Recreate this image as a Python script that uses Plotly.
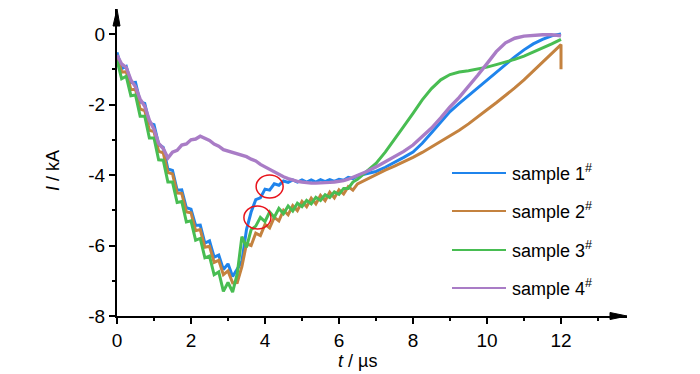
import numpy as np
import plotly.graph_objects as go

# time grids (µs)
t_early = list(np.round(np.linspace(0, 6.5, 53), 4))
t_late = list(np.round(np.linspace(6.75, 12, 22), 4))

# current values (kA)
s1_early = [-0.52, -0.98, -0.92, -1.38, -1.37, -1.93, -1.97, -2.53, -2.57, -3.13,
            -3.22, -3.83, -3.87, -4.43, -4.42, -4.93, -4.97, -5.43, -5.42, -5.93,
            -5.87, -6.33, -6.27, -6.68, -6.52, -6.88, -6.67, -6.45, -5.55, -5.05,
            -4.70, -4.65, -4.40, -4.43, -4.25, -4.29, -4.17, -4.21, -4.14, -4.20,
            -4.14, -4.20, -4.14, -4.20, -4.13, -4.19, -4.13, -4.18, -4.12, -4.15,
            -4.07, -4.10, -4.02]
s1_late = [-3.97, -3.90, -3.78, -3.65, -3.50, -3.35, -3.10, -2.80, -2.50, -2.20, -1.97,
           -1.75, -1.52, -1.30, -1.08, -0.87, -0.65, -0.45, -0.28, -0.15, -0.05, 0.00]

s2_early = [-0.60, -1.08, -1.07, -1.58, -1.57, -2.13, -2.17, -2.73, -2.77, -3.33,
            -3.37, -3.93, -3.97, -4.51, -4.52, -5.05, -5.07, -5.58, -5.55, -6.05,
            -6.02, -6.48, -6.42, -6.83, -6.72, -7.06, -7.05, -6.60, -5.95, -6.00,
            -5.65, -5.72, -5.40, -5.50, -5.20, -5.30, -5.00, -5.13, -4.87, -5.01,
            -4.75, -4.90, -4.66, -4.82, -4.58, -4.73, -4.49, -4.65, -4.42, -4.54,
            -4.33, -4.43, -4.25]
s2_late = [-4.12, -3.97, -3.86, -3.75, -3.63, -3.50, -3.36, -3.20, -3.05, -2.90, -2.73,
           -2.55, -2.36, -2.15, -1.95, -1.75, -1.53, -1.30, -1.05, -0.80, -0.55, -0.30]
s2_tail_t = [12.0]
s2_tail = [-1.0]

s3_early = [-0.75, -1.27, -1.20, -1.75, -1.73, -2.33, -2.33, -2.95, -2.95, -3.57,
            -3.58, -4.20, -4.20, -4.78, -4.75, -5.33, -5.30, -5.85, -5.80, -6.35,
            -6.30, -6.83, -6.75, -7.30, -7.05, -7.32, -6.80, -5.75, -6.05, -5.55,
            -5.45, -5.20, -5.32, -5.05, -5.20, -4.95, -5.10, -4.88, -5.02, -4.80,
            -4.90, -4.72, -4.82, -4.63, -4.72, -4.56, -4.64, -4.48, -4.55, -4.38,
            -4.38, -4.20, -4.12]
s3_late = [-3.90, -3.67, -3.35, -3.00, -2.62, -2.25, -1.87, -1.55, -1.30, -1.15, -1.08,
           -1.04, -1.00, -0.94, -0.87, -0.80, -0.72, -0.63, -0.52, -0.40, -0.28, -0.15]

s4_early = [-0.60, -0.85, -0.95, -1.30, -1.50, -1.85, -2.05, -2.45, -2.70, -3.10,
            -3.25, -3.52, -3.35, -3.30, -3.15, -3.12, -3.00, -2.98, -2.90, -2.95,
            -3.02, -3.12, -3.18, -3.28, -3.32, -3.36, -3.40, -3.45, -3.48, -3.55,
            -3.60, -3.70, -3.77, -3.85, -3.92, -3.98, -4.05, -4.10, -4.15, -4.18,
            -4.20, -4.22, -4.23, -4.23, -4.23, -4.22, -4.21, -4.20, -4.19, -4.16,
            -4.12, -4.07, -4.02]
s4_late = [-3.90, -3.77, -3.63, -3.48, -3.33, -3.15, -2.92, -2.67, -2.38, -2.07, -1.80,
           -1.50, -1.17, -0.84, -0.50, -0.25, -0.12, -0.06, -0.03, -0.02, -0.02, -0.05]

names = ["sample 1", "sample 2", "sample 3", "sample 4"]
colors = ["#1f84ec", "#c4823f", "#48bd52", "#a97cc6"]
x_ticks = [0, 2, 4, 6, 8, 10, 12]
x_labels = ["0", "2", "4", "6", "8", "10", "12"]
x_minor = [1, 3, 5, 7, 9, 11, 13]
y_ticks = [-8, -6, -4, -2, 0]
y_labels = ["-8", "-6", "-4", "-2", "0"]
y_minor = [-7, -5, -3, -1]

series = [
    (t_early + t_late, s1_early + s1_late),
    (t_early + t_late + s2_tail_t, s2_early + s2_late + s2_tail),
    (t_early + t_late, s3_early + s3_late),
    (t_early + t_late, s4_early + s4_late),
]
widths = [3.0, 3.0, 3.0, 3.4]

FONT = "Liberation Sans, Arial, sans-serif"
fig = go.Figure()
for (tx, iy), nm, c, w in zip(series, names, colors, widths):
    fig.add_trace(go.Scatter(x=tx, y=iy, mode="lines", name=nm,
                             line=dict(color=c, width=w), showlegend=False))

# plot area: x 117..627 px, y 9..316 px
L, R, T, B = 117, 627, 9, 316
W, H = R - L, B - T

def px(x):
    return (x - L) / W

def py(y):
    return (B - y) / H

shapes = []
# arrowheads
shapes.append(dict(type="path", xref="paper", yref="paper",
                   path=f"M {px(610)} {py(312.5)} L 1 0 L {px(610)} {py(319.5)} Z",
                   fillcolor="black", line=dict(color="black", width=1)))
shapes.append(dict(type="path", xref="paper", yref="paper",
                   path=f"M {px(113)} {py(26)} L 0 1 L {px(120)} {py(26)} Z",
                   fillcolor="black", line=dict(color="black", width=1)))
# red ellipses
shapes.append(dict(type="circle", xref="x", yref="y", x0=3.76, x1=4.49, y0=-4.65, y1=-4.0,
                   line=dict(color="#e8141c", width=1.5)))
shapes.append(dict(type="circle", xref="x", yref="y", x0=3.43, x1=4.16, y0=-5.53, y1=-4.88,
                   line=dict(color="#e8141c", width=1.5)))

annotations = []
leg_y = [173, 211, 250, 288]
for nm, c, yy in zip(names, colors, leg_y):
    shapes.append(dict(type="line", xref="paper", yref="paper",
                       x0=px(452), x1=px(506), y0=py(yy), y1=py(yy),
                       line=dict(color=c, width=2)))
    annotations.append(dict(xref="paper", yref="paper", x=px(510), y=py(yy - 1),
                            xanchor="left", yanchor="middle", showarrow=False,
                            text=nm + "<sup>#</sup>",
                            font=dict(family=FONT, size=18, color="black")))

annotations.append(dict(xref="paper", yref="paper", x=px(53), y=py(171),
                        xanchor="center", yanchor="middle", showarrow=False,
                        text="<i>I</i> / kA", textangle=-90,
                        font=dict(family=FONT, size=18, color="black")))
annotations.append(dict(xref="paper", yref="paper", x=px(357), y=py(361),
                        xanchor="center", yanchor="middle", showarrow=False,
                        text="<i>t</i> / µs",
                        font=dict(family=FONT, size=18, color="black")))

fig.update_layout(
    width=700, height=374,
    margin=dict(l=L, r=700 - R, t=T, b=374 - B),
    paper_bgcolor="white", plot_bgcolor="white",
    shapes=shapes, annotations=annotations,
    font=dict(family=FONT, size=18, color="black"),
    xaxis=dict(range=[0, (R - L) / 37.0], tickmode="array", tickvals=x_ticks,
               ticktext=x_labels,
               ticks="outside", ticklen=6, tickwidth=1.5, tickcolor="black",
               showline=True, linecolor="black", linewidth=2, showgrid=False,
               zeroline=False, tickfont=dict(family=FONT, size=19),
               minor=dict(tickmode="array", tickvals=x_minor, ticks="outside",
                          ticklen=3, tickwidth=1.5, tickcolor="black", showgrid=False)),
    yaxis=dict(range=[-8, -8 + (B - T) / 35.25], tickmode="array", tickvals=y_ticks,
               ticktext=y_labels,
               ticks="outside", ticklen=6, tickwidth=1.5, tickcolor="black",
               showline=True, linecolor="black", linewidth=2, showgrid=False,
               zeroline=False, tickfont=dict(family=FONT, size=19),
               minor=dict(tickmode="array", tickvals=y_minor, ticks="outside",
                          ticklen=3, tickwidth=1.5, tickcolor="black", showgrid=False)),
)

fig.write_html("out.html", config={"displayModeBar": False},
               post_script="document.body.style.margin='0px';")
